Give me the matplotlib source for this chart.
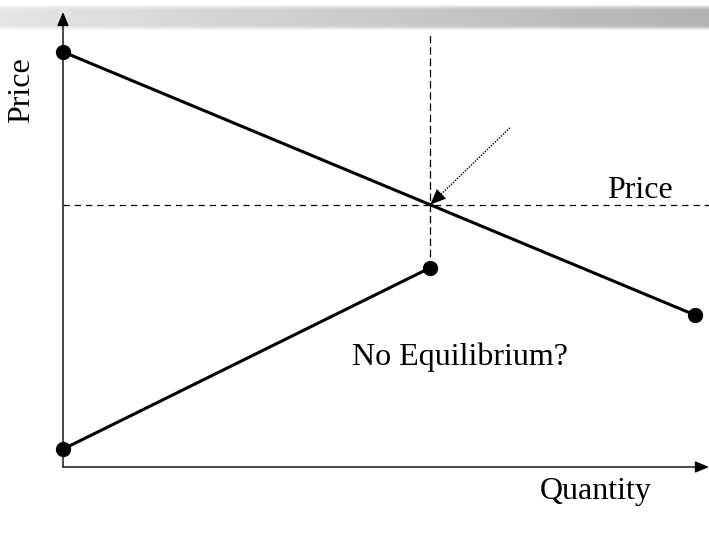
import numpy as np
import matplotlib
matplotlib.use("Agg")
import matplotlib.pyplot as plt

# ---- data (economic units) ----
demand_q = [0.0, 10.0]
demand_p = [10.0, 3.66]
supply_q = [0.0, 5.81]
supply_p = [0.43, 4.80]
price_level = 6.32
vline_q = 5.81
vline_top = 10.46
arrow_from = (7.07, 8.17)
arrow_to = (5.81, 6.32)
xmax, ymax = 10.22, 10.96

plt.rcParams['font.family'] = ['Liberation Serif', 'DejaVu Serif']

fig = plt.figure(figsize=(7.09, 5.33), dpi=100)

# decorative brush stroke band at top
band = fig.add_axes([0, (533 - 31) / 533, 1, 27 / 533], zorder=0)
nx, ny = 400, 30
gx = np.linspace(0, 1, nx)
grad = 0.90 - 0.20 * gx
img = np.tile(grad, (ny, 1))
rng_rows = np.linspace(-1, 1, ny)[:, None]
alpha = np.clip(1.3 - np.abs(rng_rows) ** 3 * 1.4, 0, 1) * np.ones((1, nx))
rgba = np.dstack([img, img, img, alpha])
band.imshow(rgba, aspect='auto', extent=[0, 1, 0, 1])
band.axis('off')

ax = fig.add_axes([63 / 709, 66 / 533, 646 / 709, 455 / 533], zorder=1)
ax.patch.set_alpha(0)
ax.set_xlim(0, xmax)
ax.set_ylim(0, ymax)
for s in ax.spines.values():
    s.set_visible(False)
ax.set_xticks([])
ax.set_yticks([])

# axes arrows
ax.annotate('', xy=(xmax, 0), xytext=(0, 0),
            arrowprops=dict(arrowstyle='-|>,head_length=0.6,head_width=0.25',
                            color='black', lw=1.0,
                            mutation_scale=14, shrinkA=0, shrinkB=0),
            annotation_clip=False)
ax.annotate('', xy=(0, ymax), xytext=(0, 0),
            arrowprops=dict(arrowstyle='-|>,head_length=0.6,head_width=0.25',
                            color='black', lw=1.0,
                            mutation_scale=14, shrinkA=0, shrinkB=0),
            annotation_clip=False)

# dashed guides
ax.plot([0, xmax], [price_level, price_level], color='black', lw=0.9,
        ls=(0, (5, 4)))
ax.plot([vline_q, vline_q], [supply_p[1], vline_top], color='black', lw=0.9,
        ls=(0, (6, 3)))

# curves
ax.plot(demand_q, demand_p, color='black', lw=2.2, marker='o', ms=10,
        clip_on=False, zorder=3)
ax.plot(supply_q, supply_p, color='black', lw=2.2, marker='o', ms=10,
        clip_on=False, zorder=3)

# dotted arrow
ax.plot([arrow_from[0], arrow_to[0]], [arrow_from[1], arrow_to[1]],
        color='black', lw=1.0, ls=(0, (1, 1)))
ax.annotate('', xy=arrow_to, xytext=arrow_from,
            arrowprops=dict(arrowstyle='-|>,head_length=0.7,head_width=0.3',
                            color='black', lw=0.0, mutation_scale=16,
                            shrinkA=0, shrinkB=0))

# texts
ax.text(9.13, 6.67, 'Price', fontsize=23, ha='center', va='center')
ax.text(6.28, 2.65, 'No Equilibrium?', fontsize=23, ha='center', va='center')
ax.text(8.42, -0.60, 'Quantity', fontsize=23, ha='center', va='center',
        clip_on=False)
fig.text(22 / 709, 1 - 90 / 533, 'Price', fontsize=23, rotation=90,
         ha='center', va='center')

fig.savefig('out.png', dpi=100)
